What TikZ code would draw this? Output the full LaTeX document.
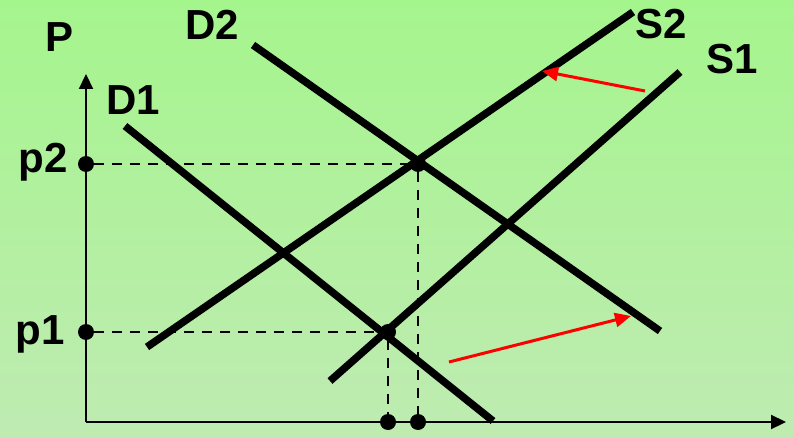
\documentclass[tikz,border=0pt]{standalone}
\usepackage{fontspec}
\setmainfont{Liberation Sans}
\usepackage{xcolor}
\usepackage{tikz}
\usetikzlibrary{arrows.meta,positioning}
\definecolor{bgtop}{HTML}{A5F58D}
\definecolor{bgbottom}{HTML}{BFEBB2}
\definecolor{shift}{HTML}{FF0000}
\tikzset{
  curve/.style={line width=7.5pt,draw=black},
  axis/.style={line width=2.2pt,-{Triangle[length=15pt,width=14pt]}},
  guide/.style={line width=2.4pt,dash pattern=on 10pt off 8pt},
  dot/.style={circle,fill=black,inner sep=0pt,minimum size=16pt},
  lbl/.style={font=\fontsize{42}{42}\selectfont\bfseries,inner sep=0pt},
  move/.style={line width=3pt,draw=shift,-{Triangle[length=16pt,width=14pt]}}
}

\begin{document}
\begin{tikzpicture}[x=1pt,y=-1pt]
\shade[top color=bgtop,bottom color=bgbottom] (0,0) rectangle (794,438);
\useasboundingbox (0,0) rectangle (794,438);
% axes
\coordinate (o) at (86,422);
\coordinate (ytop) at (86,74);
\coordinate (xend) at (786,422);
\draw[axis] (o) -- (ytop);
\draw[axis] (o) -- (xend);
% demand and supply
\coordinate (d1a) at (125,126);
\coordinate (d1b) at (493,421);
\coordinate (d2a) at (253,45);
\coordinate (d2b) at (660,331);
\coordinate (s2a) at (147,347);
\coordinate (s2b) at (633,12);
\coordinate (s1a) at (330,381);
\coordinate (s1b) at (680,72);
\draw[curve] (d1a) -- (d1b);
\draw[curve] (d2a) -- (d2b);
\draw[curve] (s2a) -- (s2b);
\draw[curve] (s1a) -- (s1b);
% equilibria
\node[dot] (e1) at (388,332) {};
\node[dot] (e2) at (418,164) {};
\node[dot] (p1) at (86,332) {};
\node[dot] (p2) at (86,164) {};
\node[dot] (q1) at (388,422) {};
\node[dot] (q2) at (418,422) {};
\draw[guide] (p1) -- (e1);
\draw[guide] (p2) -- (e2);
\draw[guide] (e1) -- (q1);
\draw[guide] (e2) -- (q2);
% shifts
\coordinate (m1a) at (645,91);
\coordinate (m1b) at (542,71);
\coordinate (m2a) at (449,362);
\coordinate (m2b) at (631,316);
\draw[move] (m1a) -- (m1b);
\draw[move] (m2a) -- (m2b);
% labels
\node[lbl] (lp) at (60,37) {P};
\node[lbl] (ld2) at (212,25) {D2};
\node[lbl] (ld1) at (133,100) {D1};
\node[lbl] (ls2) at (661,24) {S2};
\node[lbl] (ls1) at (732,59) {S1};
\node[lbl] (lp2) at (43,162) {p2};
\node[lbl] (lp1) at (40,334) {p1};
\end{tikzpicture}
\end{document}
